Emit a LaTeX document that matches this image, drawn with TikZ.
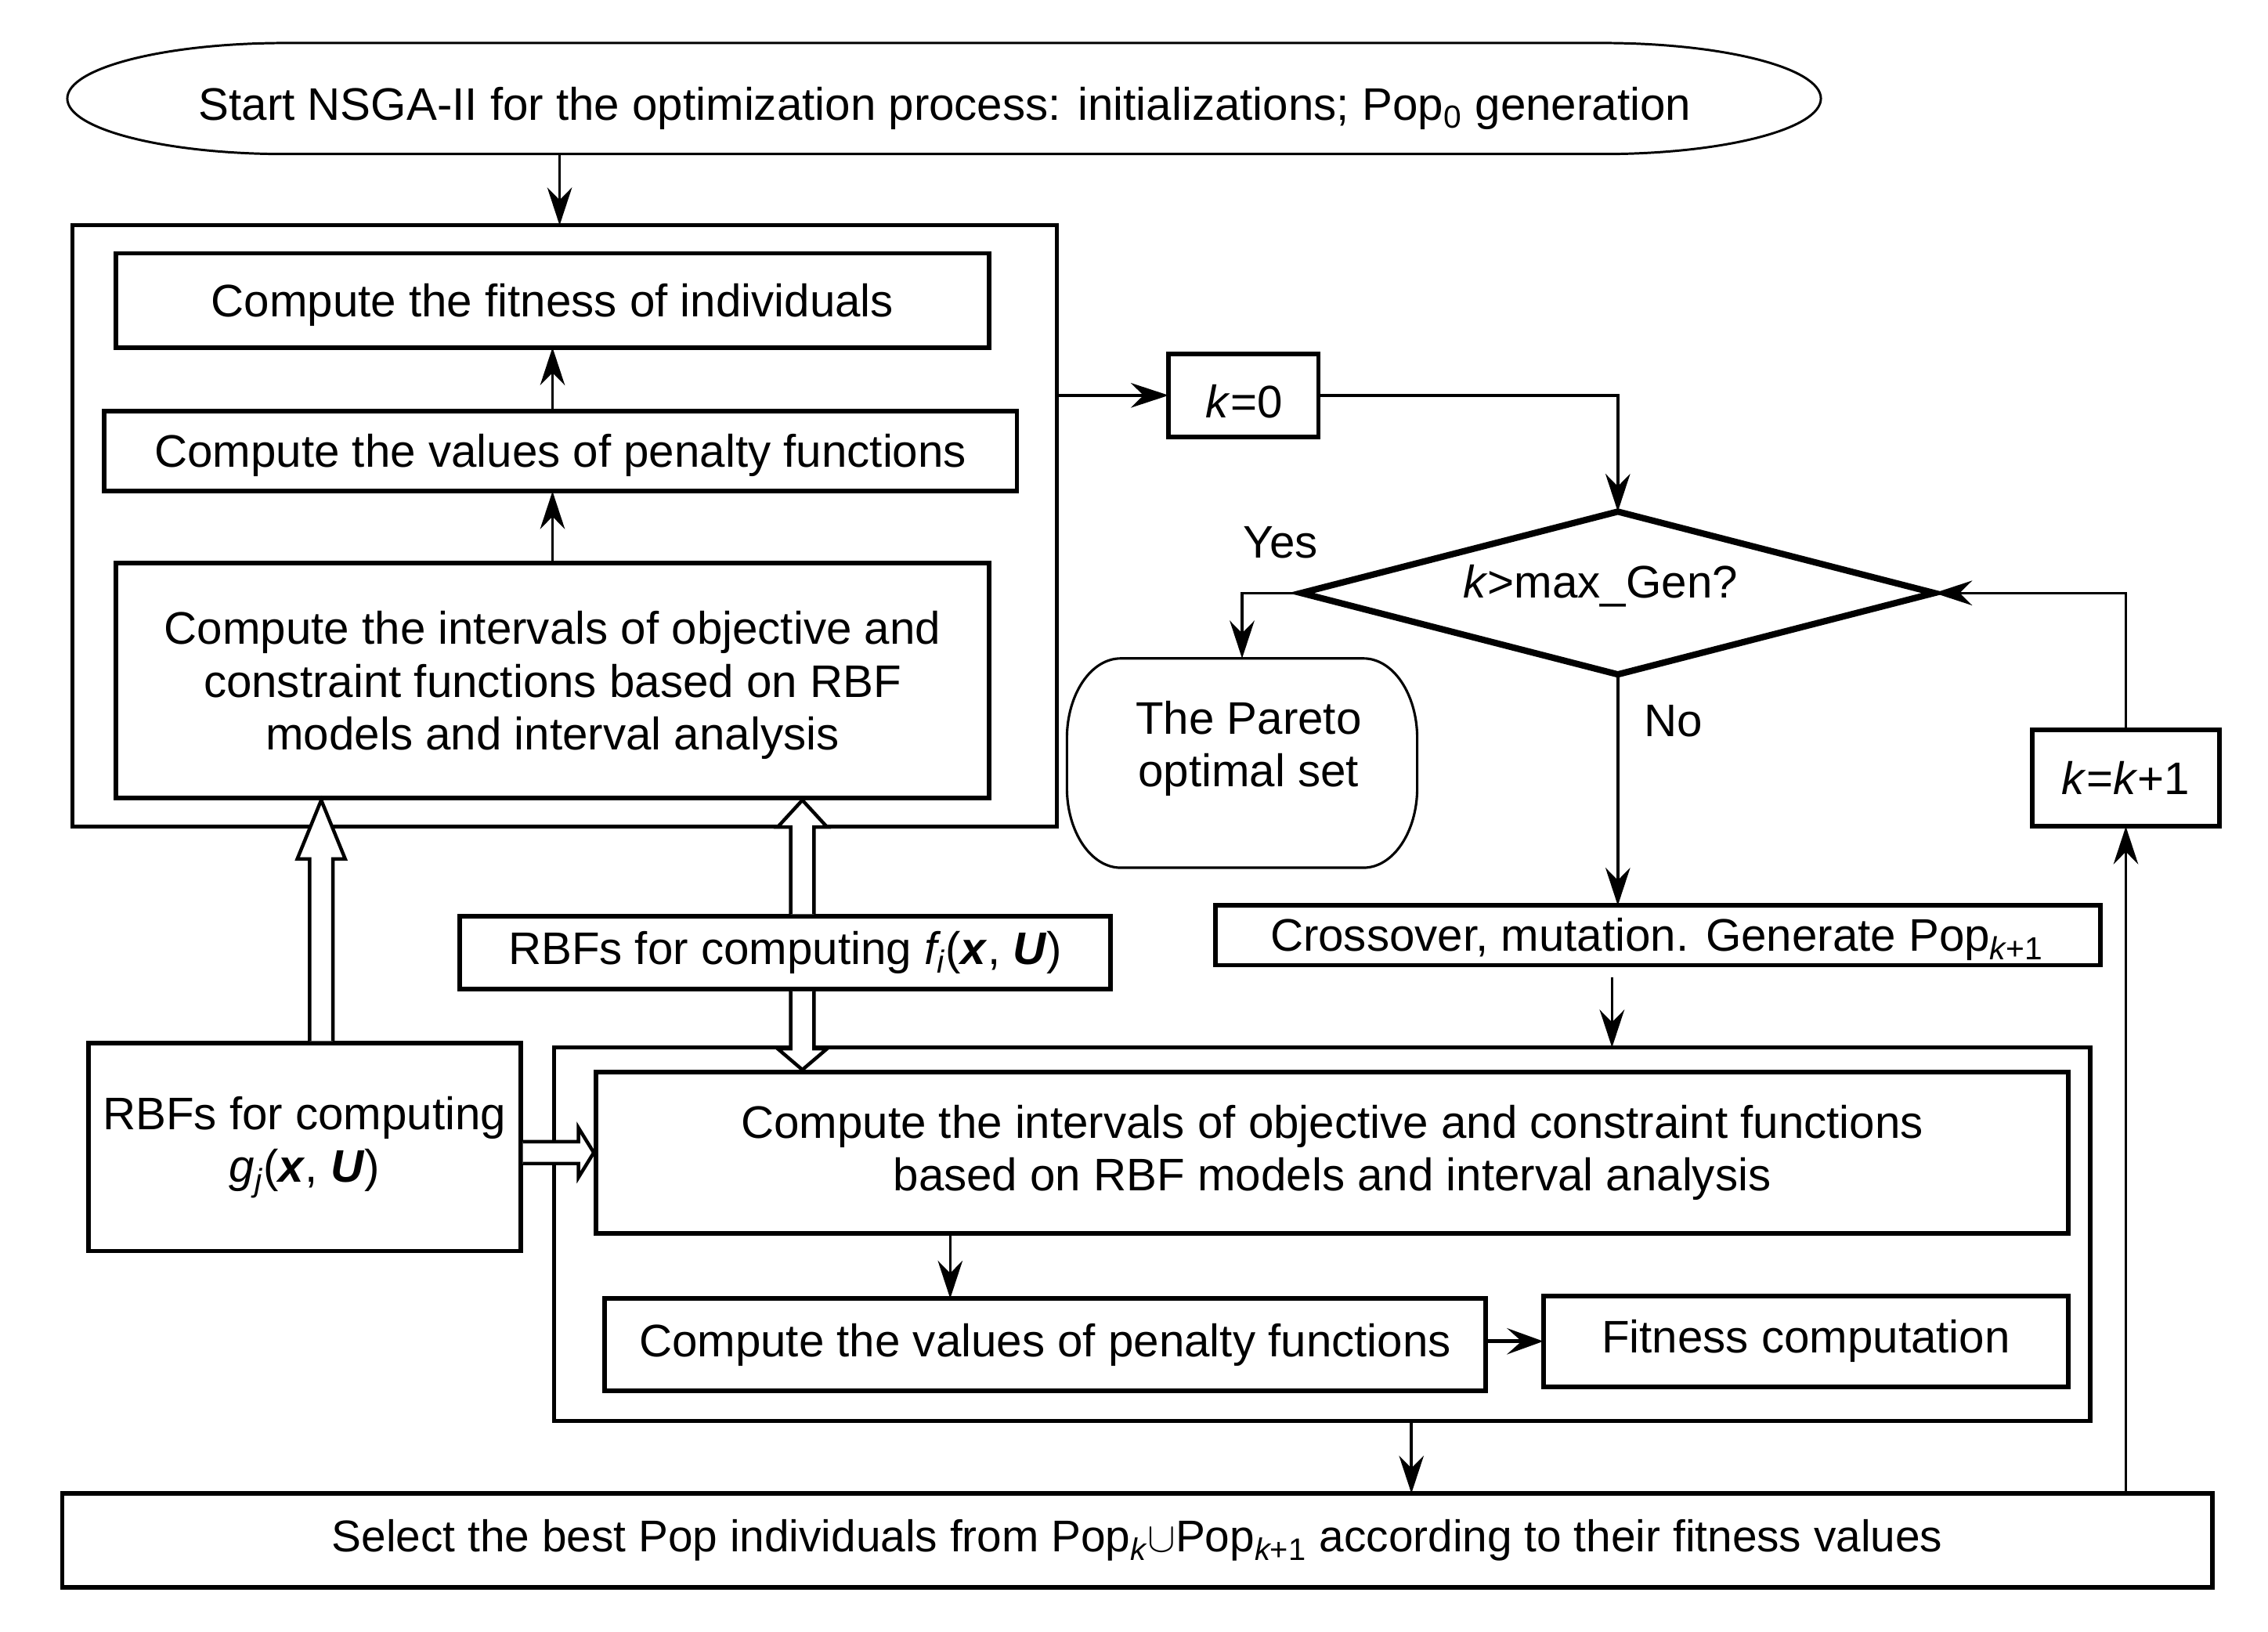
\documentclass[tikz,border=0pt]{standalone}
\usepackage{fontspec}
\setmainfont{Liberation Sans}
\usetikzlibrary{arrows.meta,calc,shapes.geometric}
\tikzset{
  every node/.style={font=\fontsize{15.7}{18.2}\selectfont, inner sep=0pt, outer sep=0pt},
  box/.style={draw, line width=1.55pt, rectangle, align=center},
  frame/.style={draw, line width=1.4pt, rectangle},
  lbl/.style={align=center},
  capc/.style={text height=13pt, text depth=1.8pt},
  arr/.style={line width=0.95pt, -{Stealth[length=13pt,width=8.5pt,inset=4.3pt]}},
  boldarr/.style={line width=1.3pt, -{Stealth[length=12.5pt,width=9pt,inset=5pt]}},
  hollow/.style={draw, line width=1.2pt, fill=white, line join=miter}
}
\begin{document}
\begin{tikzpicture}[x=0.5pt,y=-0.5pt]
\useasboundingbox (0,0) rectangle (1560.3,1122.8);

% start terminator (flattened ellipse)
\node[minimum width=603.2pt, minimum height=38.2pt] (start) at (649.5,67.8) {};
\draw[line width=0.8pt]
  ($(start.north west)+(150,0)$) -- ($(start.north east)+(-150,0)$)
  arc[start angle=90, end angle=-90, x radius=75pt, y radius=19.1pt]
  -- ($(start.south west)+(150,0)$)
  arc[start angle=270, end angle=90, x radius=75pt, y radius=19.1pt]
  -- cycle;
\node[capc] (starttext) at (650,71.4) {Start NSGA-II for the optimization process: initializations; Pop\textsubscript{0} generation};

% upper frame and its boxes
\node[frame, minimum width=338.6pt, minimum height=206.8pt] (outer1) at (388.4,361.8) {};
\node[box, capc, minimum width=300.5pt, minimum height=32.35pt] (fit1) at (380.1,206.7) {Compute the fitness of individuals};
\node[box, capc, minimum width=314pt, minimum height=27.6pt] (pen1) at (385.6,310.4) {Compute the values of penalty functions};
\node[box, minimum width=300.5pt, minimum height=80.8pt] (int1) at (380.1,468.2) {};
\node[lbl] (int1text) at (380.1,471.5) {Compute the intervals of objective and\\constraint functions based on RBF\\models and interval analysis};

% loop control
\node[box, minimum width=51.5pt, minimum height=28.65pt] (k0) at (855.5,272) {};
\node[capc] (k0text) at (856,276) {\textit{k}=0};
\node[diamond, draw, line width=2.2pt, minimum width=217.75pt, minimum height=56pt] (dec) at (1113,408) {};
\node (dectext) at (1101,403) {\textit{k}>max\_Gen?};
\node (yes) at (881,373) {Yes};
\node (no) at (1151,496) {No};
\node[box, minimum width=64.5pt, minimum height=33.3pt] (kk) at (1462.5,535.3) {\textit{k}=\textit{k}+1};

% Pareto terminator
\node[minimum width=120.5pt, minimum height=72pt] (pareto) at (854.5,525) {};
\draw[line width=0.85pt]
  ($(pareto.north west)+(37,0)$) -- ($(pareto.north east)+(-37,0)$)
  arc[start angle=90, end angle=0, x radius=18.5pt, y radius=27.5pt]
  -- ($(pareto.south east)+(0,-55)$)
  arc[start angle=0, end angle=-90, x radius=18.5pt, y radius=27.5pt]
  -- ($(pareto.south west)+(37,0)$)
  arc[start angle=270, end angle=180, x radius=18.5pt, y radius=27.5pt]
  -- ($(pareto.north west)+(0,55)$)
  arc[start angle=180, end angle=90, x radius=18.5pt, y radius=27.5pt]
  -- cycle;
\node[lbl] (paretotext) at (859,515) {The Pareto\\optimal set};

% crossover
\node[box, minimum width=304.5pt, minimum height=20.5pt] (cross) at (1140.5,643.5) {};
\node (crosstext) at (1140,646) {Crossover, mutation. Generate Pop\textsubscript{\itshape k\upshape +1}};

% RBF boxes
\node[box, minimum width=223.8pt, minimum height=25.05pt] (fbox) at (540.2,655.5) {RBFs for computing {\itshape f}\textsubscript{\itshape i}(\textbf{\textit{x}}, \textbf{\textit{U}})};
\node[box, minimum width=148.75pt, minimum height=71.45pt] (gbox) at (209.5,789.25) {RBFs for computing\\{\itshape g}\textsubscript{\itshape j}(\textbf{\textit{x}}, \textbf{\textit{U}})};

% lower frame and its boxes
\node[frame, minimum width=528.5pt, minimum height=128.55pt] (outer2) at (909.5,849.25) {};
\node[box, minimum width=506.5pt, minimum height=55.5pt] (int2) at (916.5,793) {Compute the intervals of objective and constraint functions\\based on RBF models and interval analysis};
\node[box, minimum width=303pt, minimum height=31.85pt] (pen2) at (719,925.2) {Compute the values of penalty functions};
\node[box, minimum width=180.65pt, minimum height=31.25pt] (fitness) at (1242.4,922.8) {Fitness computation};

% select
\node[box, minimum width=739.6pt, minimum height=32.25pt] (sel) at (782.4,1059.75) {\fontsize{15.3}{18}\selectfont Select the best Pop individuals from Pop\textsubscript{\itshape k}$\cup$Pop\textsubscript{\itshape k\upshape +1} according to their fitness values};

% helper coordinates
\coordinate (sx) at (385,0);
\coordinate (crossout) at (1109,672.4);
\coordinate (c1) at (653.7,0);
\coordinate (c2) at (971,0);
\coordinate (gx) at (221,0);
\coordinate (fx) at (552,0);

% thin connectors
\draw[arr] (start.south -| sx) -- (outer1.north -| sx);
\draw[arr] (fit1.south |- pen1.north) -- (fit1.south);
\draw[arr] (int1.north) -- (int1.north |- pen1.south);
\draw[arr] (outer1.east |- k0.west) -- (k0.west);
\draw[arr] (k0.east) -| (dec.north);
\draw[arr] (dec.west) -| (pareto.north);
\draw[arr] (dec.south) -- (dec.south |- cross.north);
\draw[arr] (crossout) -- (crossout |- outer2.north);
\draw[arr] (int2.south -| c1) -- (pen2.north -| c1);
\draw[boldarr] (pen2.east |- fitness.west) -- (fitness.west);
\draw[arr] (outer2.south -| c2) -- (sel.north -| c2);
\draw[arr] (sel.north -| kk.south) -- (kk.south);
\draw[arr] (kk.north) |- (dec.east);

% hollow arrows
\draw[hollow] let \p1=(gbox.north -| gx), \p2=(int1.south -| gx) in
  (\x1-4pt,\y1+0.75pt) -- (\x1-4pt,\y2-21pt) -- (\x1-8.25pt,\y2-21pt) -- (\x2,\y2-0.75pt)
  -- (\x1+8.25pt,\y2-21pt) -- (\x1+4pt,\y2-21pt) -- (\x1+4pt,\y1+0.75pt);
\draw[hollow] let \p1=(fbox.north -| fx), \p2=(int1.south -| fx) in
  (\x1-4pt,\y1+0.75pt) -- (\x1-4pt,\y2-10pt) -- (\x1-8.5pt,\y2-10pt) -- (\x2,\y2-0.75pt)
  -- (\x1+8.5pt,\y2-10pt) -- (\x1+4pt,\y2-10pt) -- (\x1+4pt,\y1+0.75pt);
\draw[hollow] let \p1=(fbox.south -| fx), \p2=(int2.north -| fx) in
  (\x1-4pt,\y1-0.75pt) -- (\x1-4pt,\y2+8pt) -- (\x1-8.5pt,\y2+8pt) -- (\x2,\y2+0.75pt)
  -- (\x1+8.5pt,\y2+8pt) -- (\x1+4pt,\y2+8pt) -- (\x1+4pt,\y1-0.75pt);
\draw[hollow] let \p1=(gbox.east |- int2.west), \p2=(int2.west) in
  (\x1+0.75pt,\y1+3.75pt) -- (\x2-6pt,\y1+3.75pt) -- (\x2-6pt,\y1+8.5pt) -- (\x2-0.75pt,\y2)
  -- (\x2-6pt,\y1-8.5pt) -- (\x2-6pt,\y1-3.75pt) -- (\x1+0.75pt,\y1-3.75pt);
\end{tikzpicture}
\end{document}
